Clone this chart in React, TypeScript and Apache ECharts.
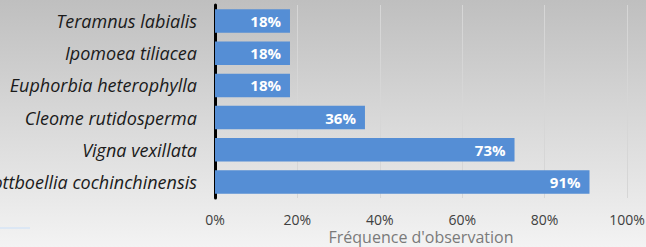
import React, { useEffect, useRef } from "react";
import * as echarts from "echarts";

const categories = [
  "Teramnus labialis",
  "Ipomoea tiliacea",
  "Euphorbia heterophylla",
  "Cleome rutidosperma",
  "Vigna vexillata",
  "Rottboellia cochinchinensis",
];
const values = [18.2, 18.2, 18.2, 36.4, 72.7, 90.9];
const xTicks = [0, 20, 40, 60, 80, 100];
const axisTitle = "Fréquence d'observation";

export default function App() {
  const ref = useRef<HTMLDivElement>(null);
  useEffect(() => {
    if (!ref.current) return;
    const chart = echarts.init(ref.current, undefined, { renderer: "svg" });
    chart.setOption({
      animation: false,
      backgroundColor: {
        type: "linear",
        x: 0,
        y: 0,
        x2: 0,
        y2: 1,
        colorStops: [
          { offset: 0, color: "#bfbfbf" },
          { offset: 1, color: "#f3f3f3" },
        ],
      },
      grid: {
        left: 215,
        right: 19,
        top: 5,
        bottom: 49,
        containLabel: false,
        outerBoundsMode: "none",
      },
      xAxis: {
        type: "value",
        min: xTicks[0],
        max: xTicks[xTicks.length - 1],
        interval: 20,
        axisLine: { show: false },
        axisTick: { show: false },
        splitLine: { show: true, lineStyle: { color: "#d6d6d6", width: 1 } },
        axisLabel: {
          formatter: (v: number) => `${v}%`,
          color: "#404040",
          fontSize: 14,
          fontFamily: "Open Sans",
          margin: 14,
        },
      },
      yAxis: {
        type: "category",
        data: categories,
        inverse: true,
        axisLine: { show: true, lineStyle: { color: "#000000", width: 3 } },
        axisTick: { show: false },
        axisLabel: {
          color: "#1a1a1a",
          fontSize: 18,
          fontStyle: "italic",
          fontFamily: "Open Sans",
          margin: 18,
        },
      },
      series: [
        {
          type: "bar",
          data: values,
          barCategoryGap: "27%",
          itemStyle: { color: "#558ed5" },
          label: {
            show: true,
            position: "insideRight",
            formatter: (p: any) => `${Math.round(p.value)}%`,
            color: "#ffffff",
            fontWeight: "bold",
            fontSize: 15,
            fontFamily: "Open Sans",
            distance: 9,
          },
        },
      ],
      graphic: [
        {
          type: "rect",
          shape: { x: 0, y: 227, width: 30, height: 2 },
          style: { fill: "#dce7f4" },
        },
        {
          type: "text",
          x: 421,
          y: 237,
          style: {
            text: axisTitle,
            fill: "#7a7a7a",
            fontSize: 16,
            fontFamily: "Open Sans",
            textAlign: "center",
            textVerticalAlign: "middle",
          },
        },
      ],
    });
    return () => chart.dispose();
  }, []);
  return <div ref={ref} style={{ width: 646, height: 247, position: "absolute", left: 0, top: 0 }} />;
}
